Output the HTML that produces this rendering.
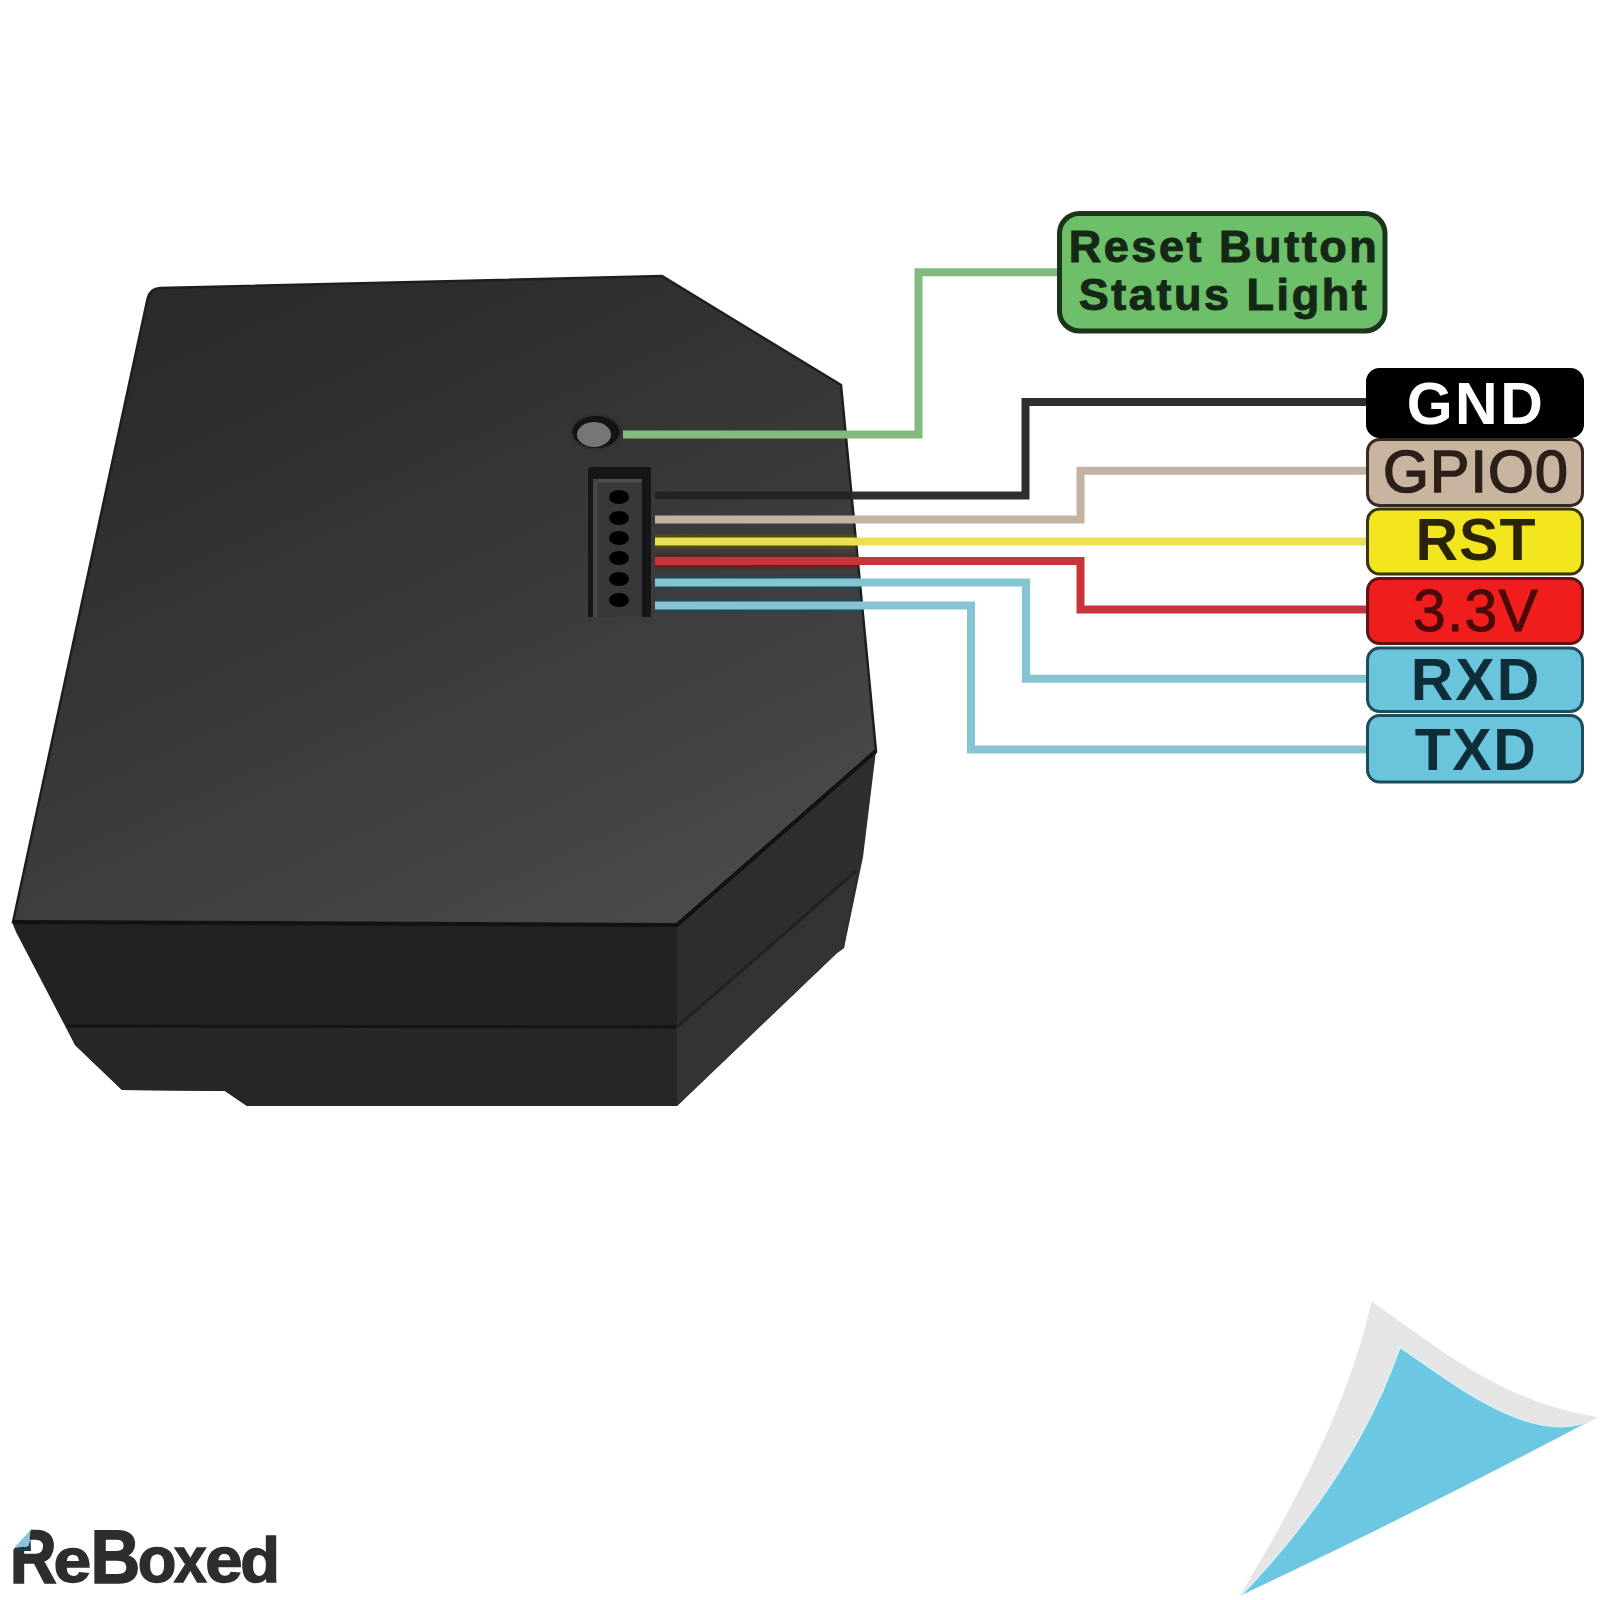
<!DOCTYPE html>
<html><head><meta charset="utf-8">
<style>
html,body{margin:0;padding:0;background:#fff;width:1600px;height:1600px;overflow:hidden}
svg{display:block}
text{font-family:"Liberation Sans",sans-serif}
</style></head>
<body>
<svg width="1600" height="1600" viewBox="0 0 1600 1600">
<defs>
  <linearGradient id="topg" x1="330" y1="290" x2="620" y2="930" gradientUnits="userSpaceOnUse">
    <stop offset="0" stop-color="#2b2b2b"/>
    <stop offset="0.45" stop-color="#383838"/>
    <stop offset="1" stop-color="#4a4949"/>
  </linearGradient>
</defs>
<rect width="1600" height="1600" fill="#fff"/>

<!-- device -->
<g id="device">
  <!-- front face -->
  <path d="M12 922 L677 925 L677 1106 L247 1106 L225 1091 L122 1090 L75 1045 L16 932 Z" fill="#222222"/>
  <path d="M67 1026 L677 1027 L677 1106 L247 1106 L225 1091 L122 1090 L75 1045 Z" fill="#272727"/>
  <line x1="67" y1="1026" x2="677" y2="1027" stroke="#141414" stroke-width="3"/>
  <!-- right diagonal face -->
  <path d="M677 925 L876 751 L863 857 L844 948 L837 953 L677 1106 Z" fill="#2e2e2f"/>
  <path d="M677 1027 L856 871 L844 948 L837 953 L677 1106 Z" fill="#333333"/>
  <line x1="677" y1="1027" x2="856" y2="871" stroke="#222" stroke-width="3"/>
  <!-- top face -->
  <path d="M160 288 L662 276 L841 385 L876 751 L677 925 L13 922 L147.5 299 Q150 288.5 160 288 Z" fill="url(#topg)" stroke="#1e1e1e" stroke-width="2.5"/>
  <path d="M876 751 L677 925 L13 922" fill="none" stroke="#121212" stroke-width="4"/>
  <!-- button -->
  <ellipse cx="596" cy="432" rx="26" ry="18" fill="#2f2f2f" opacity="0.8"/>
  <ellipse cx="596" cy="432" rx="23.5" ry="16" fill="#141414"/>
  <ellipse cx="594" cy="434.5" rx="17" ry="12.5" fill="#777676"/>
  <!-- connector -->
  <path d="M592 467 H649 Q651 467 651 470 V617 H588 V471 Q588 467 592 467 Z" fill="#161616"/>
  <rect x="593" y="479" width="49" height="138" fill="#383838"/>
  <rect x="593" y="479" width="49" height="3.5" fill="#4d4d4d"/>
  <rect x="593" y="479" width="4.5" height="138" fill="#474747"/>
  <g fill="#000">
    <ellipse cx="619" cy="497" rx="10" ry="7"/>
    <ellipse cx="619" cy="518" rx="10" ry="7"/>
    <ellipse cx="619" cy="538" rx="10" ry="7"/>
    <ellipse cx="619" cy="558" rx="10" ry="7"/>
    <ellipse cx="619" cy="579" rx="10" ry="7"/>
    <ellipse cx="619" cy="600" rx="10" ry="7"/>
  </g>
</g>

<!-- wires -->
<clipPath id="topclip"><path d="M160 288 L662 276 L841 385 L876 751 L677 925 L13 922 L147.5 299 Q150 288.5 160 288 Z"/></clipPath>
<g fill="none" stroke-width="15" clip-path="url(#topclip)" opacity="0.5">
  <path d="M655 541.5 H900" stroke="#5e5a00"/>
  <path d="M655 561 H900" stroke="#6a1a1a"/>
  <path d="M655 582.5 H900" stroke="#124a5a"/>
  <path d="M655 605.5 H900" stroke="#124a5a"/>
</g>
<g fill="none" stroke-width="8" stroke-linejoin="miter" stroke-linecap="butt">
  <path d="M623 434.5 H918.5 V272.3 H1060" stroke="#82bb7e"/>
  <path d="M655 495.5 H1025.5 V402 H1368" stroke="#2e2e2e"/>
  <path d="M655 519.5 H1080.5 V470.7 H1368" stroke="#c4b2a2"/>
  <path d="M655 541.5 H1368" stroke="#e9e152"/>
  <path d="M655 561 H1080.5 V609.5 H1368" stroke="#c9343a"/>
  <path d="M655 582.5 H1026 V678.8 H1368" stroke="#85c5d2"/>
  <path d="M655 605.5 H971 V749.5 H1368" stroke="#85c5d2"/>
</g>

<path d="M655 495.5 H900" stroke="#232323" stroke-width="7" clip-path="url(#topclip)"/>
<!-- reset label -->
<rect x="1059.5" y="213.5" width="325.5" height="117.5" rx="20" fill="#6dbf69" stroke="#1b351b" stroke-width="5"/>
<text x="1224" y="262" text-anchor="middle" font-size="45" font-weight="bold" letter-spacing="2.55" fill="#152815" stroke="#152815" stroke-width="1">Reset Button</text>
<text x="1224" y="310" text-anchor="middle" font-size="45" font-weight="bold" letter-spacing="2.55" fill="#152815" stroke="#152815" stroke-width="1">Status Light</text>

<!-- pin labels -->
<g stroke-width="3">
  <rect x="1367.5" y="369.5" width="215" height="67" rx="12" fill="#000" stroke="#000"/>
  <rect x="1367.5" y="439.5" width="215" height="66" rx="12" fill="#c8b49f" stroke="#352a22"/>
  <rect x="1367.5" y="509" width="215" height="65" rx="12" fill="#f2e61e" stroke="#3c3306"/>
  <rect x="1367.5" y="578.5" width="215" height="65" rx="12" fill="#f01d1d" stroke="#5c1414"/>
  <rect x="1367.5" y="648" width="215" height="63.5" rx="12" fill="#6ac5dc" stroke="#1d4c5a"/>
  <rect x="1367.5" y="715.5" width="215" height="66.5" rx="12" fill="#6ac5dc" stroke="#1d4c5a"/>
</g>
<g text-anchor="middle" font-size="59">
  <text x="1476" y="424" fill="#fff" font-weight="bold" letter-spacing="2.5">GND</text>
  <text x="1476" y="491.5" fill="#2b1f18" stroke="#2b1f18" stroke-width="1.6" letter-spacing="1.1">GPIO0</text>
  <text x="1476" y="560" fill="#2a2404" font-weight="bold" letter-spacing="1">RST</text>
  <text x="1476" y="631" fill="#4a0a0a" stroke="#4a0a0a" stroke-width="0.9" letter-spacing="1.1">3.3V</text>
  <text x="1476" y="700" fill="#0f2d38" font-weight="bold" letter-spacing="2">RXD</text>
  <text x="1476" y="770" fill="#0f2d38" font-weight="bold" letter-spacing="1.5">TXD</text>
</g>

<!-- logo -->
<g font-size="100" font-weight="bold" fill="#2d2d2d" stroke="#2d2d2d" stroke-width="2.2">
<text transform="translate(9.65 1582.50) scale(0.6506 0.7631)">R</text>
<text transform="translate(53.60 1581.88) scale(0.6782 0.6334)">e</text>
<text transform="translate(90.39 1582.50) scale(0.6887 0.7631)">B</text>
<text transform="translate(137.83 1581.87) scale(0.6326 0.6425)">o</text>
<text transform="translate(174.10 1582.00) scale(0.5886 0.6473)">x</text>
<text transform="translate(205.18 1581.87) scale(0.6709 0.6425)">e</text>
<text transform="translate(240.33 1581.69) scale(0.6509 0.6223)">d</text>
</g>
<path d="M11 1527 H31 L31 1530 L13 1550 H11 Z" fill="#fff"/>
<path d="M14 1548 L30.5 1530.5 L29 1546 Z" fill="#8cc4dc"/>
<path d="M14 1549.5 L28.5 1546 L30.5 1538 L31 1551 L14 1551 Z" fill="#1d3a4a"/>

<!-- corner triangle -->
<path d="M1371.5 1301.6 C1450 1356.6 1501.9 1400.9 1597.7 1417.2 Q1430 1506 1239.7 1596.2 C1294.4 1504 1348.1 1407.2 1371.5 1301.6 Z" fill="#e5e5e5"/>
<path d="M1400 1347.5 C1446.3 1377.9 1537.3 1453.8 1597 1417 Q1430 1506 1241.6 1595 C1309.6 1523.8 1367.4 1441.7 1400 1347.5 Z" fill="#6cc7e3"/>
<path d="M1241.6 1595 C1309.6 1523.8 1367.4 1441.7 1400 1347.5 C1446.3 1377.9 1537.3 1453.8 1597 1417" fill="none" stroke="#d6f3fb" stroke-width="1.3"/>
</svg>
</body></html>
